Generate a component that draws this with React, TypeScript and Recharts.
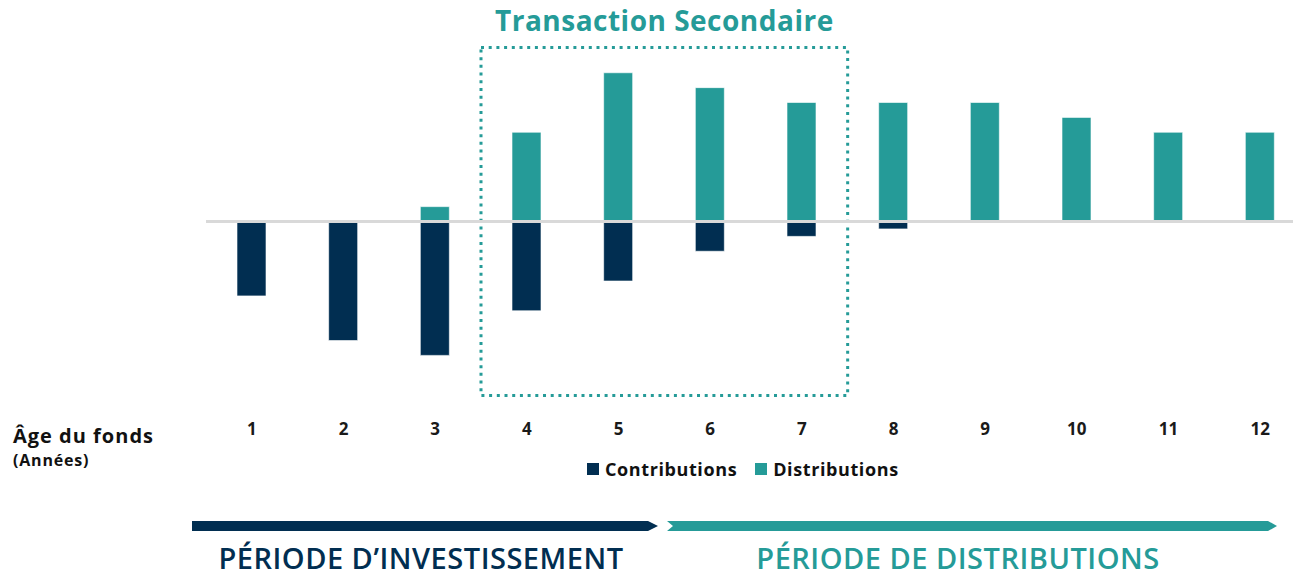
import React from 'react';
import {
  Bar,
  BarChart,
  Legend,
  ReferenceArea,
  ReferenceLine,
  XAxis,
  YAxis,
} from 'recharts';

const years = ['1', '2', '3', '4', '5', '6', '7', '8', '9', '10', '11', '12'];
const contributions = [-5, -8, -9, -6, -4, -2, -1, -0.5, 0, 0, 0, 0];
const distributions = [0, 0, 1, 6, 10, 9, 8, 8, 8, 7, 6, 6];
const seriesNames = ['Contributions', 'Distributions'];
const secondaryRange = ['4', '7'];
const boxTitle = 'Transaction Secondaire';
const periods = ["PÉRIODE D’INVESTISSEMENT", 'PÉRIODE DE DISTRIBUTIONS'];

const NAVY = '#012E51';
const TEAL = '#259B98';
const FONT = '"Open Sans", "DejaVu Sans", sans-serif';

const data = years.map((y, i) => ({
  year: y,
  contributions: contributions[i],
  distributions: distributions[i],
}));

const YearTick = (props: any) => {
  const { x, y, payload } = props;
  return (
    <text x={x} y={y + 27} textAnchor="middle" fontFamily={FONT} fontWeight={700} fontSize={17} fill="#1a1a1a">
      {payload.value}
    </text>
  );
};

const renderLegend = (props: any) => {
  const { payload } = props;
  return (
    <div style={{ display: 'flex', gap: 18, fontFamily: FONT, fontWeight: 700, fontSize: 18, letterSpacing: 0.6, color: '#111' }}>
      {payload.map((p: any) => (
        <div key={p.value} style={{ display: 'flex', alignItems: 'center', gap: 6 }}>
          <span style={{ width: 12, height: 12, background: p.color, display: 'inline-block' }} />
          <span>{p.value}</span>
        </div>
      ))}
    </div>
  );
};

export default function App() {
  return (
    <div style={{ position: 'absolute', left: 0, top: 0, width: 1293, height: 573, overflow: 'hidden', background: '#fff' }}>
      <BarChart
        width={1311}
        height={573}
        data={data}
        stackOffset="sign"
        margin={{ top: 43, right: 5, left: 206, bottom: 119 }}
      >
        <XAxis dataKey="year" axisLine={false} tickLine={false} height={30} tick={<YearTick />} interval={0} />
        <YAxis hide domain={[-12, 12]} allowDataOverflow />
        <Bar dataKey="contributions" name={seriesNames[0]} stackId="a" fill={NAVY} stroke="#ffffff" strokeWidth={0.6} barSize={29} isAnimationActive={false} />
        <Bar dataKey="distributions" name={seriesNames[1]} stackId="a" fill={TEAL} stroke="#ffffff" strokeWidth={0.6} barSize={29} isAnimationActive={false} />
        <ReferenceLine y={0} stroke="#D9D9D9" strokeWidth={3} />
        <ReferenceArea
          x1={secondaryRange[0]}
          x2={secondaryRange[1]}
          y1={-11.7}
          y2={11.7}
          fill="none"
          fillOpacity={0}
          stroke={TEAL}
          strokeWidth={3}
          strokeDasharray="3 4.7"
          label={{ value: boxTitle, position: 'top', offset: 16, fill: TEAL, fontFamily: FONT, fontWeight: 700, fontSize: 28, letterSpacing: 0.5 }}
        />
        <Legend content={renderLegend} wrapperStyle={{ top: 457, left: 587, bottom: 'auto', width: 'auto' }} />
      </BarChart>

      <div style={{ position: 'absolute', left: 13, top: 423, fontFamily: FONT, fontWeight: 700, color: '#111' }}>
        <div style={{ fontSize: 20, lineHeight: '26px', letterSpacing: 1 }}>Âge du fonds</div>
        <div style={{ fontSize: 16, lineHeight: '22px', letterSpacing: 0.8 }}>(Années)</div>
      </div>

      <svg width={1293} height={573} style={{ position: 'absolute', left: 0, top: 0, pointerEvents: 'none' }}>
        <polygon points="192,521 648,521 658,526 648,531 192,531" fill={NAVY} />
        <polygon points="667,521 1268,521 1277,526 1268,531 667,531 673,526" fill={TEAL} />
        <text x={421} y={569} textAnchor="middle" fontFamily={FONT} fontWeight={600} fontSize={29} letterSpacing={0.5} fill={NAVY}>
          {periods[0]}
        </text>
        <text x={958} y={569} textAnchor="middle" fontFamily={FONT} fontWeight={600} fontSize={29} letterSpacing={0.5} fill={TEAL}>
          {periods[1]}
        </text>
      </svg>
    </div>
  );
}
